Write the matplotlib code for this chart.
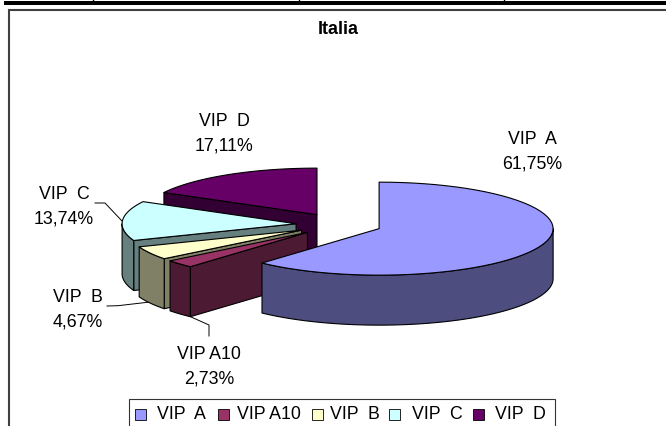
#!/usr/bin/env python
import numpy as np
import matplotlib
matplotlib.use("Agg")
import matplotlib.pyplot as plt
from matplotlib.patches import Polygon, Rectangle

plt.rcParams['font.family'] = ['Liberation Sans', 'DejaVu Sans']

## data
labels = ["VIP  A", "VIP A10", "VIP  B", "VIP  C", "VIP  D"]
shares = [61.75, 2.73, 4.67, 13.74, 17.11]
share_text = ["61,75%", "2,73%", "4,67%", "13,74%", "17,11%"]
top_colors = ["#9999FF", "#993366", "#FFFFCC", "#CCFFFF", "#660066"]
side_colors = ["#4D4D80", "#4D1A33", "#808066", "#668080", "#330033"]
label_pos = [(532, 152), (209, 367), (78, 309.5), (64, 207), (224, 134)]
header_ticks = [93, 299, 504]

## pie geometry, in pixels
cx, cy = 339.0, 225.5
rx, ry = 174.0, 46.5
depth = 50.0
explode = 43.0

fs = 12.8
fig = plt.figure(figsize=(6.66, 4.27), dpi=100)
ax = fig.add_axes([0, 0, 1, 1])
ax.set_xlim(0, 666)
ax.set_ylim(427, 0)
ax.axis("off")

## table remains and chart frame
ax.add_patch(Rectangle((4, 2), 670, 4, fc="black", ec="none"))
for x in header_ticks:
    ax.plot([x, x], [0, 3], color="black", lw=1.0)
ax.add_patch(Rectangle((9, 11), 670, 430, fc="white", ec="#404040", lw=1.5))
ax.text(338, 29, "Italia", ha="center", va="center", fontsize=13, fontweight="bold")


def pt(ox, oy, t, r=1.0):
    return ox - rx * r * np.sin(t), oy - ry * r * np.cos(t)


def arc(ox, oy, t0, t1, n=60):
    ts = np.linspace(t0, t1, n)
    return np.column_stack(pt(ox, oy, ts))


def face(ax, xy, color, z):
    ax.add_patch(Polygon(xy, closed=True, fc=color, ec="black", lw=0.8, zorder=z, joinstyle="round"))


## angles run counter clockwise from the top; VIP A starts at the top going clockwise
ends = np.cumsum(shares) / 100.0 * 2 * np.pi
starts = np.r_[0, ends[:-1]]
draw_order = [4, 3, 2, 1, 0]
for k, i in enumerate(draw_order):
    t1 = 2 * np.pi - starts[i]
    t0 = 2 * np.pi - ends[i]
    mid = (t0 + t1) / 2
    ox = cx - explode * np.sin(mid)
    oy = cy - explode * ry / rx * np.cos(mid)
    z = 2 + k
    ## radial side faces that look at the viewer
    for t, show in ((t0, np.sin(t0) < -1e-6), (t1, np.sin(t1) > 1e-6)):
        if show:
            px, py = pt(ox, oy, t)
            face(ax, [(ox, oy), (px, py), (px, py + depth), (ox, oy + depth)], side_colors[i], z)
    ## outer rim, only the front half of the ellipse shows
    a, b = max(t0, np.pi / 2), min(t1, 1.5 * np.pi)
    if b > a:
        rim = arc(ox, oy, a, b)
        low = rim[::-1] + [0, depth]
        face(ax, np.vstack((rim, low)), side_colors[i], z)
    top = np.vstack(([ox, oy], arc(ox, oy, t0, t1)))
    face(ax, top, top_colors[i], z)

## data labels
for lab, txt, (x, y) in zip(labels, share_text, label_pos):
    ax.text(x, y, lab + "\n" + txt, ha="center", va="center", fontsize=fs, linespacing=1.55, zorder=20)

## leader lines
ax.plot([95, 105, 122], [204, 204, 222], color="black", lw=0.7, zorder=1)
ax.plot([107, 118, 150], [307, 306.7, 303], color="black", lw=0.7, zorder=1)
ax.plot([180, 209, 209], [313, 326, 337], color="black", lw=0.7, zorder=1)

## legend
ax.add_patch(Rectangle((129, 400), 426, 40, fc="white", ec="#333333", lw=0.8, zorder=20))
for lab, col, bx, tx in zip(labels, top_colors, [135, 218, 312, 389, 473], [157, 237, 330, 412, 495]):
    ax.add_patch(Rectangle((bx, 410), 10.5, 10.5, fc=col, ec="black", lw=0.6, zorder=21))
    ax.text(tx, 415, lab, ha="left", va="center", fontsize=fs, zorder=21)

fig.savefig("out.png", dpi=100)
